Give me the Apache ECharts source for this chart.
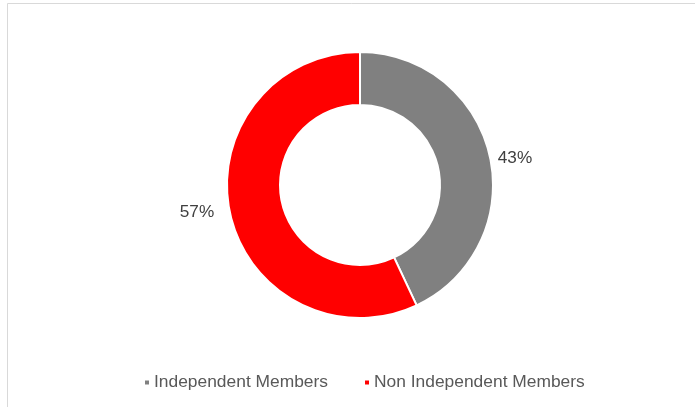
<!DOCTYPE html>
<html>
<head>
<meta charset="utf-8">
<script src="https://cdn.jsdelivr.net/npm/echarts@6/dist/echarts.min.js"></script>
<style>
html,body{margin:0;padding:0;background:#fff;}
#c{width:695px;height:407px;}
</style>
</head>
<body>
<div id="c"></div>
<script>
const categories = ["Independent Members", "Non Independent Members"];
const values = [43, 57];
const colors = ["#808080", "#ff0000"];

const chart = echarts.init(document.getElementById('c'), null, {renderer: 'canvas'});
const labelTweaks = [
  {distanceToLabelLine: 8},
  {distanceToLabelLine: 16}
];
const labelShiftY = [2, -2];
chart.setOption({
  animation: false,
  backgroundColor: '#ffffff',
  graphic: [{
    type: 'rect',
    shape: {x: 7.5, y: 3.5, width: 720, height: 440},
    style: {fill: 'none', stroke: '#d9d9d9', lineWidth: 1},
    silent: true
  }],
  legend: {
    data: categories,
    left: 143,
    top: 374,
    padding: 0,
    itemWidth: 6,
    itemHeight: 6,
    itemGap: 35,
    icon: 'rect',
    textStyle: {fontFamily: 'Liberation Sans, Arial, sans-serif', fontSize: 17.4, color: '#595959', padding: [0, 0, 0, -1]}
  },
  series: [{
    type: 'pie',
    center: [360, 185],
    radius: [80, 133],
    startAngle: 90,
    clockwise: true,
    avoidLabelOverlap: false,
    itemStyle: {borderColor: '#ffffff', borderWidth: 2},
    label: {
      show: true,
      position: 'outside',
      formatter: '{c}%',
      fontFamily: 'Liberation Sans, Arial, sans-serif',
      fontSize: 17.2,
      color: '#404040'
    },
    labelLine: {show: false, length: 0, length2: 0},
    labelLayout: function (p) { return {dy: labelShiftY[p.dataIndex]}; },
    emphasis: {disabled: true},
    data: categories.map((n, i) => ({name: n, value: values[i], itemStyle: {color: colors[i]}, label: labelTweaks[i]}))
  }]
});
</script>
</body>
</html>
